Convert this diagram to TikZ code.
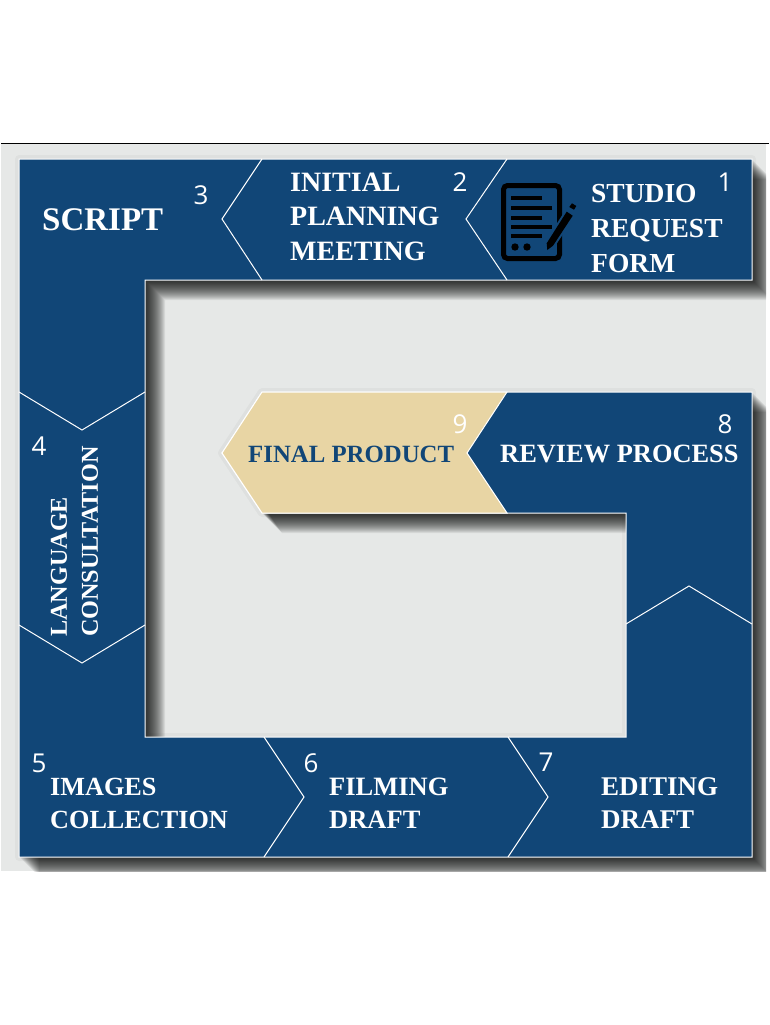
\documentclass[tikz,border=0pt]{standalone}
\usepackage{fontspec}
\setmainfont{Liberation Serif}
\newfontfamily\numfont{Open Sans}
\definecolor{panelblue}{HTML}{114677}
\definecolor{paneltan}{HTML}{E8D5A4}
\definecolor{panelgray}{HTML}{E6E8E7}
\newcommand{\txtsize}[2]{\fontsize{#1}{#2}\selectfont\bfseries}
\newcommand{\ribbonpath}{(19,159) -- (752,159) -- (752,280) -- (145,280) -- (145,737) -- (626,737) -- (626,513) -- (262,513) -- (222,453) -- (262,392) -- (752,392) -- (752,857) -- (19,857) -- cycle}
\newcommand{\penpath}{(547.3,250) -- (546.7,243.3) -- (566.7,211.7) -- (572.7,215.7) -- (553,245.7) -- cycle}
\tikzstyle{title}=[text=white, anchor=west, align=left, inner sep=0pt]
\tikzstyle{number}=[text=white, inner sep=0pt, font=\numfont\fontsize{26}{26}\selectfont]
\tikzstyle{divider}=[draw=white, line width=1pt]
\tikzstyle{iconline}=[draw=black, line width=4pt]

\begin{document}
\begin{tikzpicture}[x=1pt, y=-1pt]
	\useasboundingbox (0,0) rectangle (769,1025);
	\fill[white] (0,0) rectangle (769,1025);
	\begin{scope}
		\fill[panelgray] (1,143) rectangle (766,871);
		\draw[black, line width=1pt] (1,143) -- (769,143);
		\clip (1,143) rectangle (766,871);
		\path[draw=black, draw opacity=0.03, line width=8pt, line join=round] \ribbonpath;
		\foreach \k in {0,...,20} {
			\path[fill=black, fill opacity=0.065, shift={(\k,\k)}] \ribbonpath;
		}
	\end{scope}
	\begin{scope}
		\path[fill=panelblue, divider] \ribbonpath;
		\path[fill=paneltan, divider] (262,392) -- (507,392) -- (467,453) -- (507,513) -- (262,513) -- (222,453) -- cycle;
		\path[divider] (262,159) -- (222,219) -- (262,280);
		\path[divider] (507,159) -- (466,219) -- (507,280);
		\path[divider] (19,392) -- (82,430) -- (145,392);
		\path[divider] (19,625) -- (82,663) -- (145,625);
		\path[divider] (264,737) -- (304,797) -- (264,857);
		\path[divider] (508,737) -- (548,797) -- (508,857);
		\path[divider] (626,624) -- (689,586) -- (752,624);
	\end{scope}
	\begin{scope}
		\draw[black, line width=5pt, rounded corners=4pt] (503.5,185.5) rectangle (559.5,258.5);
		\path[iconline] (511,198) -- (542,198);
		\path[iconline] (511,208) -- (552,208);
		\path[iconline] (511,218) -- (542,218);
		\path[iconline] (511,227) -- (552,227);
		\path[iconline] (511,236) -- (542,236);
		\fill[black] (515,247) circle (3.7pt);
		\fill[black] (527,247) circle (3.7pt);
		\path[draw=panelblue, line width=4pt] \penpath;
		\fill[black] \penpath;
		\fill[black] (569.3,207) -- (572,203.3) -- (576.3,206) -- (574,209.7) -- cycle;
	\end{scope}
	\begin{scope}
		\node (studio) at (591,229)[title, font=\txtsize{27.5}{35}] {STUDIO\\REQUEST\\FORM};
		\node (planning) at (290,216.5)[title, font=\txtsize{28}{34.5}] {INITIAL\\PLANNING\\MEETING};
		\node (script) at (42,220)[title, font=\txtsize{33}{36}] {SCRIPT};
		\node (language) at (74.5,637)[title, rotate=90, font=\txtsize{24.2}{31}] {LANGUAGE\\CONSULTATION};
		\node (images) at (50,803)[title, font=\txtsize{26.2}{33}] {IMAGES\\COLLECTION};
		\node (filming) at (329,803)[title, font=\txtsize{26.5}{33}] {FILMING\\DRAFT};
		\node (editing) at (601,803)[title, font=\txtsize{27}{33}] {EDITING\\DRAFT};
		\node (review) at (500,454)[title, font=\txtsize{26.4}{32}] {REVIEW PROCESS};
		\node (final) at (248,454)[title, text=panelblue, font=\txtsize{24.8}{32}] {FINAL PRODUCT};
		\node (n1) at (725,182)[number] {1};
		\node (n2) at (460,182)[number] {2};
		\node (n3) at (201,195)[number] {3};
		\node (n4) at (39,446)[number] {4};
		\node (n5) at (39,763)[number] {5};
		\node (n6) at (311,763)[number] {6};
		\node (n7) at (546,762)[number] {7};
		\node (n8) at (725,424)[number] {8};
		\node (n9) at (460,424)[number] {9};
	\end{scope}
\end{tikzpicture}
\end{document}
